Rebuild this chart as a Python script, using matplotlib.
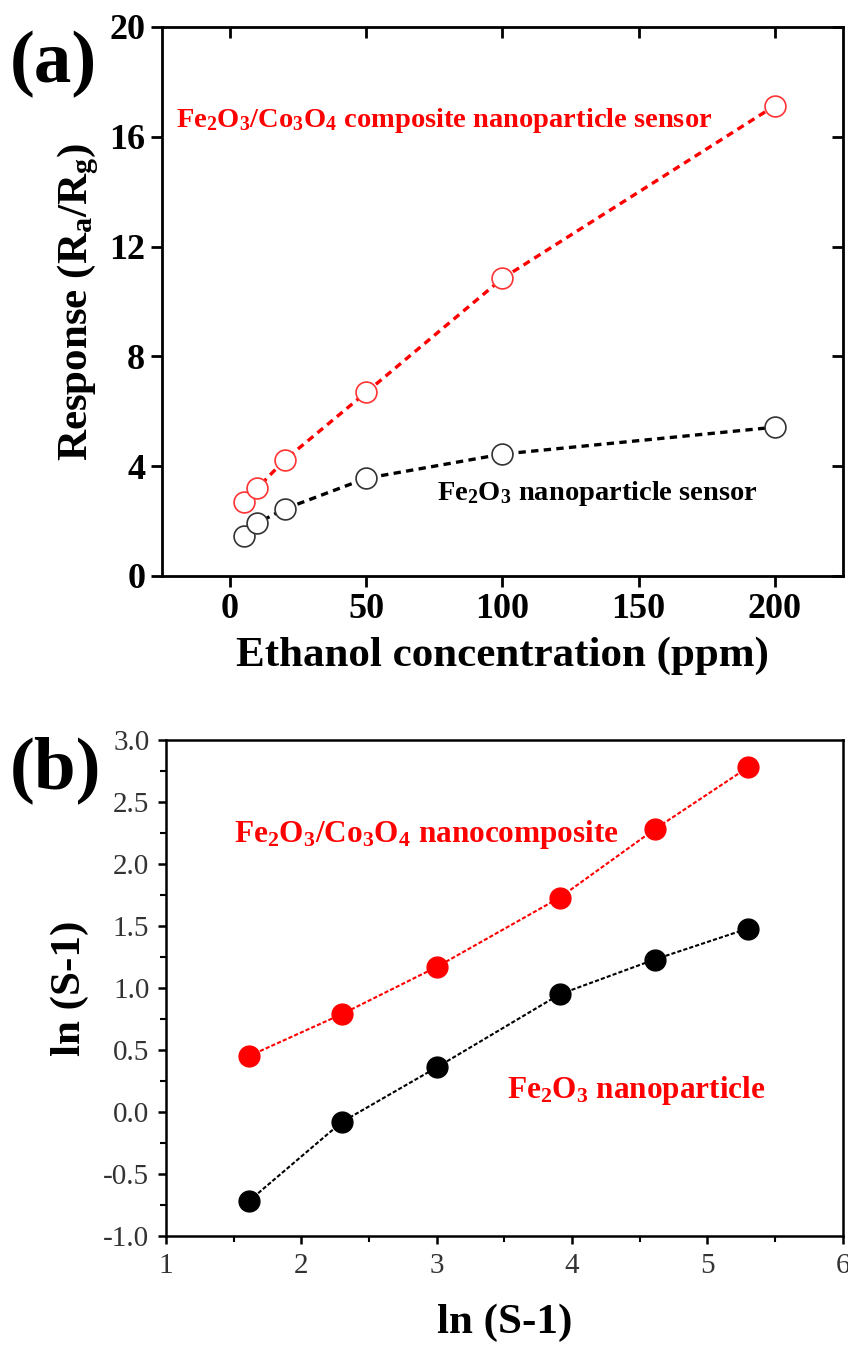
import numpy as np
import matplotlib
matplotlib.use('Agg')
import matplotlib.pyplot as plt

plt.rcParams['font.family'] = 'Liberation Serif'
plt.rcParams['font.weight'] = 'bold'
plt.rcParams['axes.labelweight'] = 'bold'
plt.rcParams['mathtext.fontset'] = 'custom'
plt.rcParams['mathtext.rm'] = 'Liberation Serif:bold'
plt.rcParams['mathtext.it'] = 'Liberation Serif:bold'
plt.rcParams['mathtext.bf'] = 'Liberation Serif:bold'

# panel (a) data
conc = [5, 10, 20, 50, 100, 200]
resp_composite = [2.69, 3.2, 4.22, 6.69, 10.84, 17.13]
resp_fe2o3 = [1.45, 1.93, 2.44, 3.56, 4.44, 5.42]

# panel (b) data
ln_x = [1.61, 2.30, 3.00, 3.91, 4.61, 5.30]
ln_composite = [0.45, 0.79, 1.17, 1.73, 2.28, 2.78]
ln_fe2o3 = [-0.72, -0.08, 0.36, 0.95, 1.23, 1.48]

fig = plt.figure(figsize=(8.48, 13.47), dpi=100)

# ---- (a) ----
ax1 = fig.add_axes([0.191, 0.5724, 0.803, 0.4076])
ax1.plot(conc, resp_composite, color='red', lw=2.4, ls=(0, (2.2, 1.6)),
         marker='o', ms=15, mfc='white', mec='#ff3333', mew=1.2)
ax1.plot(conc, resp_fe2o3, color='black', lw=2.4, ls=(0, (2.2, 1.6)),
         marker='o', ms=15, mfc='white', mec='#333333', mew=1.2)
ax1.set_xlim(-25, 225)
ax1.set_ylim(0, 20)
ax1.set_xticks([0, 50, 100, 150, 200])
ax1.set_yticks([0, 4, 8, 12, 16, 20])
for s in ax1.spines.values():
    s.set_linewidth(2)
ax1.tick_params(direction='out', length=8, width=2, labelsize=26, pad=4)
sec_x = ax1.secondary_xaxis('top')
sec_x.set_xticks([0, 50, 100, 150, 200])
sec_x.tick_params(direction='in', length=8, width=2, labeltop=False)
sec_y = ax1.secondary_yaxis('right')
sec_y.set_yticks([0, 4, 8, 12, 16, 20])
sec_y.tick_params(direction='in', length=8, width=2, labelright=False)
ax1.set_xlabel('Ethanol concentration (ppm)', fontsize=31, labelpad=8)
ax1.set_ylabel('Response (R$_a$/R$_g$)', fontsize=31, labelpad=6)
ax1.text(-20, 16.6, 'Fe$_2$O$_3$/Co$_3$O$_4$ composite nanoparticle sensor',
         color='red', fontsize=20.5, ha='left', va='center')
ax1.text(76, 3.0, 'Fe$_2$O$_3$ nanoparticle sensor',
         color='black', fontsize=20.5, ha='left', va='center')
fig.text(0.012, 0.952, '(a)', fontsize=54, ha='left', va='center')

# ---- (b) ----
ax2 = fig.add_axes([0.1958, 0.0824, 0.798, 0.3682])
ax2.plot(ln_x, ln_composite, color='red', lw=1.5, ls=(0, (2, 1)),
         marker='o', ms=15, mfc='red', mec='red')
ax2.plot(ln_x, ln_fe2o3, color='black', lw=1.5, ls=(0, (2, 1)),
         marker='o', ms=15, mfc='black', mec='black')
ax2.set_xlim(1, 6)
ax2.set_ylim(-1, 3)
ax2.set_xticks([1, 2, 3, 4, 5, 6])
ax2.set_xticks(np.arange(1.5, 6, 1), minor=True)
ax2.set_yticks(np.arange(-1, 3.01, 0.5))
ax2.set_yticks(np.arange(-0.75, 3, 0.5), minor=True)
ax2.yaxis.set_major_formatter(matplotlib.ticker.FormatStrFormatter('%.1f'))
for s in ax2.spines.values():
    s.set_linewidth(1.8)
ax2.tick_params(which='major', direction='out', length=6, width=1.8,
                labelsize=21, labelcolor='#333333', pad=6)
ax2.tick_params(which='minor', direction='out', length=4, width=1.5)
for lab in ax2.get_xticklabels() + ax2.get_yticklabels():
    lab.set_fontweight('normal')
ax2.set_xlabel('ln (S-1)', fontsize=31, labelpad=18)
ax2.set_ylabel('ln (S-1)', fontsize=31, labelpad=10)
ax2.text(1.5, 2.24, 'Fe$_2$O$_3$/Co$_3$O$_4$ nanocomposite',
         color='red', fontsize=22.5, ha='left', va='center')
ax2.text(3.52, 0.17, 'Fe$_2$O$_3$ nanoparticle',
         color='red', fontsize=22.5, ha='left', va='center')
fig.text(0.012, 0.428, '(b)', fontsize=54, ha='left', va='center')

fig.savefig('out.png', dpi=100)
